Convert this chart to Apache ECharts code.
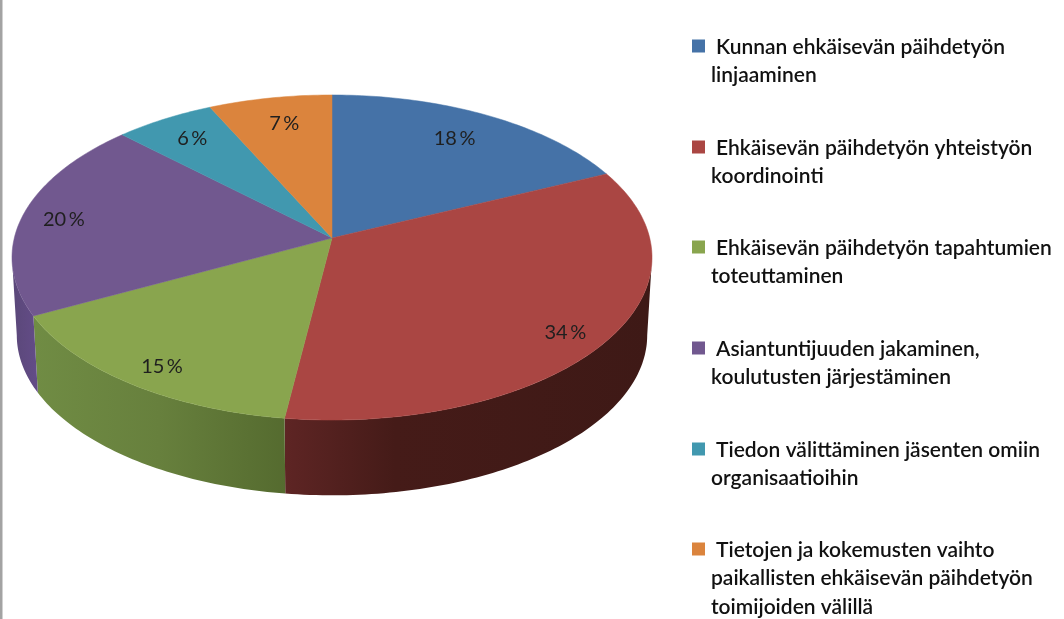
<!DOCTYPE html>
<html>
<head>
<meta charset="utf-8">
<style>
    html, body { margin: 0; padding: 0; background: #fff; }
    #main { width: 1064px; height: 619px; }
</style>
</head>
<body>
<div id="main"></div>
<script src="https://cdn.jsdelivr.net/npm/echarts@6/dist/echarts.min.js"></script>
<script>
// data, the labels show rounded percents and the slice edges give the decimals
var categories = [
    ['Kunnan ehkäisevän päihdetyön', 'linjaaminen'],
    ['Ehkäisevän päihdetyön yhteistyön', 'koordinointi'],
    ['Ehkäisevän päihdetyön tapahtumien', 'toteuttaminen'],
    ['Asiantuntijuuden jakaminen,', 'koulutusten järjestäminen'],
    ['Tiedon välittäminen jäsenten omiin', 'organisaatioihin'],
    ['Tietojen ja kokemusten vaihto', 'paikallisten ehkäisevän päihdetyön', 'toimijoiden välillä']
];
var values = [18.1, 34, 15.3, 19.9, 5.7, 7];

// colours
var topColors = ['#4572a7', '#aa4643', '#89a54e', '#71588f', '#4198af', '#db843d'];
var wallColors = {
    1: ['#5e2524', '#451b18', '#3e1916'],
    2: ['#708c44', '#67803d', '#556b2f'],
    3: ['#5a4779', '#5f4a80', '#634c88']
};

// layout of the tilted disc, a circle seen in perspective
var cx = 332, cy = 238;       // where the slices meet
var ax = 317.7, ay = 160.2;   // radii of the circle before perspective
var persp = 0.12;             // makes the near edge bigger than the far one
var depth = 78, depthScale = 0.985;  // lower rim of the wall
var labelRadius = [0.8, 0.86, 0.88, 0.85, 0.8, 0.8];
var labelNudge = [[-4, 0], [-1, 8], [6, 2], [-5, 1], [-3, -3], [3, 0]];

var total = values.reduce(function (a, b) { return a + b; }, 0);
var legendFont = '600 21px Lato, "Noto Sans", sans-serif';

// angle in degrees clockwise from 12 o'clock, r as fraction of the radius
function project(deg, r) {
    var t = deg * Math.PI / 180;
    var u = r * Math.sin(t), v = -r * Math.cos(t);
    var d = 1 - persp * v;
    return [cx + ax * u / d, cy + ay * v / d];
}
function lower(p) {
    return [cx + depthScale * (p[0] - cx), cy + depth + depthScale * (p[1] - cy)];
}
function arc(from, to) {
    var pts = [], n = Math.max(2, Math.ceil(Math.abs(to - from)));
    for (var i = 0; i <= n; i++) {
        pts.push(project(from + (to - from) * i / n, 1));
    }
    return pts;
}

// the wall shows between the two widest points of the ellipse
var wallFrom = Math.acos(-persp) * 180 / Math.PI;
var wallTo = 360 - wallFrom;

function renderSlice(params, api) {
    var i = params.dataIndex;
    var before = 0;
    for (var k = 0; k < i; k++) before += values[k];
    var a0 = before / total * 360;
    var a1 = (before + api.value(0)) / total * 360;
    var children = [];

    var w0 = Math.max(a0, wallFrom), w1 = Math.min(a1, wallTo);
    if (w1 > w0) {
        var rim = arc(w0, w1);
        var wall = rim.concat(rim.map(lower).reverse());
        var c = wallColors[i];
        children.push({
            type: 'polygon',
            z2: 1,
            shape: { points: wall },
            style: {
                fill: new echarts.graphic.LinearGradient(0, 0, 1, 0, [
                    { offset: 0, color: c[0] },
                    { offset: i == 1 ? 0.3 : 0.5, color: c[1] },
                    { offset: 1, color: c[2] }
                ])
            }
        });
    }

    children.push({
        type: 'polygon',
        z2: 2,
        shape: { points: [[cx, cy]].concat(arc(a0, a1)) },
        style: { fill: topColors[i], stroke: topColors[i], lineWidth: 0.5 }
    });

    var pos = project((a0 + a1) / 2, labelRadius[i]);
    children.push({
        type: 'text',
        z2: 3,
        style: {
            x: pos[0] + labelNudge[i][0],
            y: pos[1] + labelNudge[i][1],
            text: Math.round(api.value(0)) + '\u2009%',
            font: '20px Lato, "Noto Sans", sans-serif',
            fill: '#1f1f1f',
            align: 'center',
            verticalAlign: 'middle'
        }
    });
    return { type: 'group', children: children };
}

// legend, the first line sits a little right of the following ones
var legendTops = [46, 147, 247, 348, 449, 549];
var legendElements = [];
categories.forEach(function (lines, i) {
    legendElements.push({
        type: 'rect',
        shape: { x: 692, y: legendTops[i] - 6.5, width: 13, height: 13 },
        style: { fill: topColors[i] }
    });
    lines.forEach(function (line, j) {
        legendElements.push({
            type: 'text',
            style: {
                x: j == 0 ? 716 : 711,
                y: legendTops[i] + 1 + j * 28.5,
                text: line,
                font: legendFont,
                fill: '#111',
                verticalAlign: 'middle'
            }
        });
    });
});
// grey edge of the original frame
legendElements.push({
    type: 'rect',
    shape: { x: 0, y: 0, width: 2.5, height: 619 },
    style: { fill: '#a3a3a3' }
});

var chart = echarts.init(document.getElementById('main'));
chart.setOption({
    backgroundColor: '#fff',
    animation: false,
    graphic: { elements: legendElements },
    series: [{
        type: 'custom',
        coordinateSystem: 'none',
        renderItem: renderSlice,
        data: values.map(function (v, i) {
            return { value: [v], name: categories[i].join(' ') };
        })
    }]
});
</script>
</body>
</html>
